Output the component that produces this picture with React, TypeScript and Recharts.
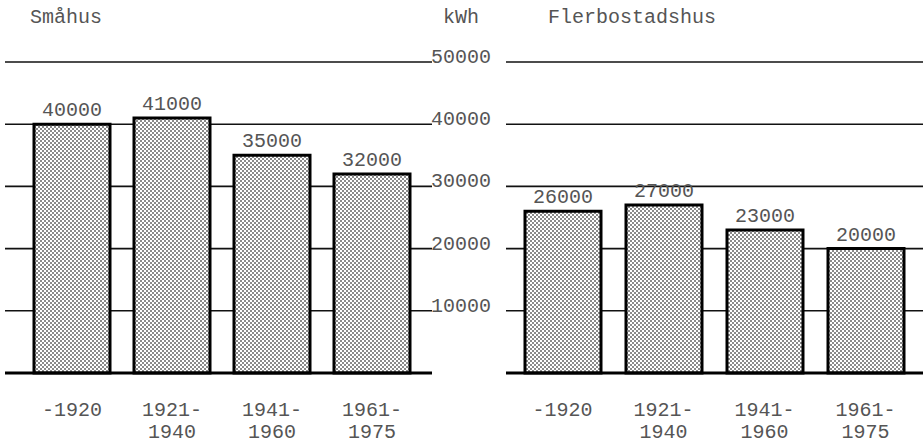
import React from "react";
import { BarChart, Bar, XAxis, YAxis, CartesianGrid, LabelList } from "recharts";

const categories = ["-1920", "1921-1940", "1941-1960", "1961-1975"];
const tickTop = ["-1920", "1921-", "1941-", "1961-"];
const tickBottom = ["", "1940", "1960", "1975"];
const smahusValues = [40000, 41000, 35000, 32000];
const flerValues = [26000, 27000, 23000, 20000];
const yTicks = [0, 10000, 20000, 30000, 40000, 50000];

const FONT = "'Liberation Mono', 'DejaVu Sans Mono', monospace";
const TEXT = "#555";

const leftData = categories.map((c, i) => ({ cat: c, idx: i, value: smahusValues[i] }));
const rightData = categories.map((c, i) => ({ cat: c, idx: i, value: flerValues[i] }));

const XTick = (props: any) => {
  const { x, y, index } = props;
  return (
    <g>
      <text x={x} y={y + 41} textAnchor="middle" fontFamily={FONT} fontSize={20} fill={TEXT}>
        {tickTop[index]}
      </text>
      <text x={x} y={y + 63} textAnchor="middle" fontFamily={FONT} fontSize={20} fill={TEXT}>
        {tickBottom[index]}
      </text>
    </g>
  );
};

const YTick = (props: any) => {
  const { x, y, payload } = props;
  if (payload.value === 0) return null;
  return (
    <text x={x - 3} y={y + 1} textAnchor="start" fontFamily={FONT} fontSize={20} fill={TEXT}>
      {payload.value}
    </text>
  );
};

const EmptyTick = () => <g />;

const ValueLabel = (props: any) => {
  const { x, y, width, value } = props;
  return (
    <text x={x + width / 2} y={y - 8} textAnchor="middle" fontFamily={FONT} fontSize={20} fill={TEXT}>
      {value}
    </text>
  );
};

const Pattern = ({ id }: { id: string }) => (
  <defs>
    <pattern id={id} width={4} height={4} patternUnits="userSpaceOnUse">
      <rect x={0} y={0} width={4} height={4} fill="#ffffff" />
      <rect x={0} y={0} width={2} height={2} fill="#8a8a8a" />
      <rect x={2} y={2} width={2} height={2} fill="#8a8a8a" />
    </pattern>
  </defs>
);

const titleStyle: React.CSSProperties = {
  position: "absolute",
  fontFamily: FONT,
  fontSize: 20,
  color: TEXT,
  lineHeight: "20px",
  whiteSpace: "nowrap",
};

export default function App() {
  return (
    <div style={{ position: "absolute", left: 0, top: 0, width: 923, height: 446, background: "#fff", overflow: "hidden" }}>
      <div style={{ position: "absolute", left: 0, top: 0 }}>
        <BarChart width={500} height={446} data={leftData} margin={{ top: 62, right: 0, left: 5, bottom: 0 }}>
          <Pattern id="dotsL" />
          <CartesianGrid vertical={false} stroke="#111" strokeWidth={1.6} />
          <XAxis
            dataKey="cat"
            height={73}
            padding={{ left: 17, right: 10 }}
            tickLine={false}
            tickSize={0}
            axisLine={{ stroke: "#000", strokeWidth: 3 }}
            tick={<XTick />}
            interval={0}
          />
          <YAxis
            orientation="right"
            width={68}
            domain={[0, 50000]}
            ticks={yTicks}
            axisLine={false}
            tickLine={false}
            tickSize={0}
            tick={<YTick />}
          />
          <Bar dataKey="value" barSize={76} fill="url(#dotsL)" stroke="#000" strokeWidth={3} isAnimationActive={false}>
            <LabelList dataKey="value" content={<ValueLabel />} />
          </Bar>
        </BarChart>
      </div>
      <div style={{ position: "absolute", left: 494, top: 0 }}>
        <BarChart width={429} height={446} data={rightData} margin={{ top: 62, right: 0, left: 0, bottom: 0 }}>
          <Pattern id="dotsR" />
          <CartesianGrid vertical={false} stroke="#111" strokeWidth={1.6} />
          <XAxis
            dataKey="cat"
            height={73}
            padding={{ left: 6, right: 7 }}
            tickLine={false}
            tickSize={0}
            axisLine={{ stroke: "#000", strokeWidth: 3 }}
            tick={<XTick />}
            interval={0}
          />
          <YAxis width={12} domain={[0, 50000]} ticks={yTicks} axisLine={false} tickLine={false} tick={<EmptyTick />} />
          <Bar dataKey="value" barSize={76} fill="url(#dotsR)" stroke="#000" strokeWidth={3} isAnimationActive={false}>
            <LabelList dataKey="value" content={<ValueLabel />} />
          </Bar>
        </BarChart>
      </div>
      <div style={{ ...titleStyle, left: 30, top: 8 }}>Småhus</div>
      <div style={{ ...titleStyle, left: 443, top: 8 }}>kWh</div>
      <div style={{ ...titleStyle, left: 548, top: 8 }}>Flerbostadshus</div>
    </div>
  );
}
